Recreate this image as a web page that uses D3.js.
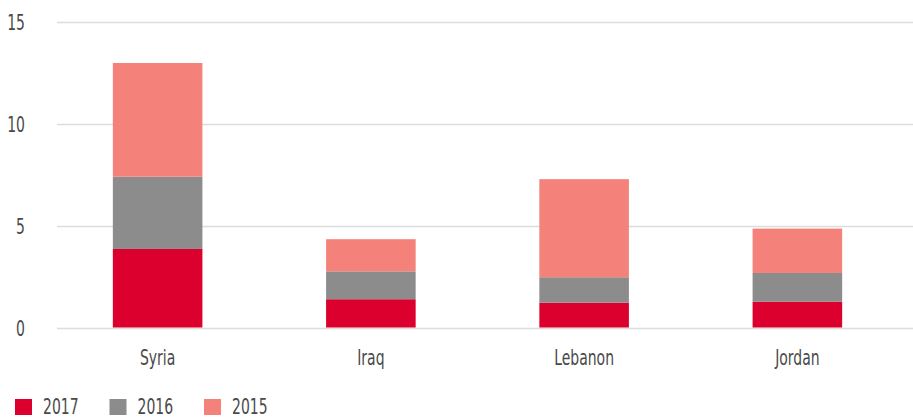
<!DOCTYPE html>
<html lang="en">
<meta charset="UTF-8">
<title>Stacked bars</title>
<script src="https://d3js.org/d3.v7.min.js"></script>
<style>
  body { margin: 0; background: #fff; }
  text { font-family: "DejaVu Sans Condensed", "Liberation Sans Narrow", sans-serif; fill: #4a4a4a; font-size: 21px; }
</style>
<body>
<div id="chart"></div>
<script>
// data
var countries = ["Syria", "Iraq", "Lebanon", "Jordan"];
var years = ["2017", "2016", "2015"];
var v2017 = [3.86, 1.39, 1.22, 1.27];
var v2016 = [3.55, 1.37, 1.25, 1.41];
var v2015 = [5.59, 1.58, 4.82, 2.18];
var yTicks = [0, 5, 10, 15];
var colors = ["#db002e", "#8c8c8c", "#f5817b"];

var W = 913, H = 418;
var squeeze = 0.74; // the original uses a narrow condensed face

var svg = d3.select("#chart").append("svg")
    .attr("width", W)
    .attr("height", H);

var rows = countries.map(function(c, i) {
  return { country: c, "2017": v2017[i], "2016": v2016[i], "2015": v2015[i] };
});

var x = d3.scaleBand()
    .domain(countries)
    .range([51, 904])
    .paddingInner(0.58)
    .paddingOuter(0.29);

var y = d3.scaleLinear()
    .domain([0, 15])
    .range([327.5, 22.3]);

function place(px, py) {
  return "translate(" + px + "," + py + ") scale(" + squeeze + ",1)";
}

// gridlines
svg.append("g")
  .selectAll("line")
  .data(yTicks)
  .enter().append("line")
    .attr("x1", 57)
    .attr("x2", W)
    .attr("y1", function(d) { return Math.round(y(d)) + 0.5; })
    .attr("y2", function(d) { return Math.round(y(d)) + 0.5; })
    .attr("stroke", "#dcdcdc")
    .attr("stroke-width", 1.5);

// y labels
svg.append("g")
  .selectAll("text")
  .data(yTicks)
  .enter().append("text")
    .attr("transform", function(d) { return place(25, y(d) + 8); })
    .attr("text-anchor", "end")
    .text(function(d) { return d; });

// stacked bars
var series = d3.stack().keys(years)(rows);

svg.append("g")
  .selectAll("g")
  .data(series)
  .enter().append("g")
    .attr("fill", function(d, i) { return colors[i]; })
  .selectAll("rect")
  .data(function(d) { return d; })
  .enter().append("rect")
    .attr("x", function(d) { return x(d.data.country); })
    .attr("width", x.bandwidth())
    .attr("y", function(d) { return y(d[1]); })
    .attr("height", function(d) { return y(d[0]) - y(d[1]); });

// category labels
svg.append("g")
  .selectAll("text")
  .data(countries)
  .enter().append("text")
    .attr("transform", function(d) { return place(x(d) + x.bandwidth() / 2, 365); })
    .attr("text-anchor", "middle")
    .text(function(d) { return d; });

// legend
var legend = svg.append("g")
  .selectAll("g")
  .data(years)
  .enter().append("g")
    .attr("transform", function(d, i) { return "translate(" + (15 + i * 94.5) + ",399)"; });

legend.append("rect")
    .attr("width", 17)
    .attr("height", 16)
    .attr("fill", function(d, i) { return colors[i]; });

legend.append("text")
    .attr("transform", place(28, 15))
    .text(function(d) { return d; });
</script>
</body>
</html>
